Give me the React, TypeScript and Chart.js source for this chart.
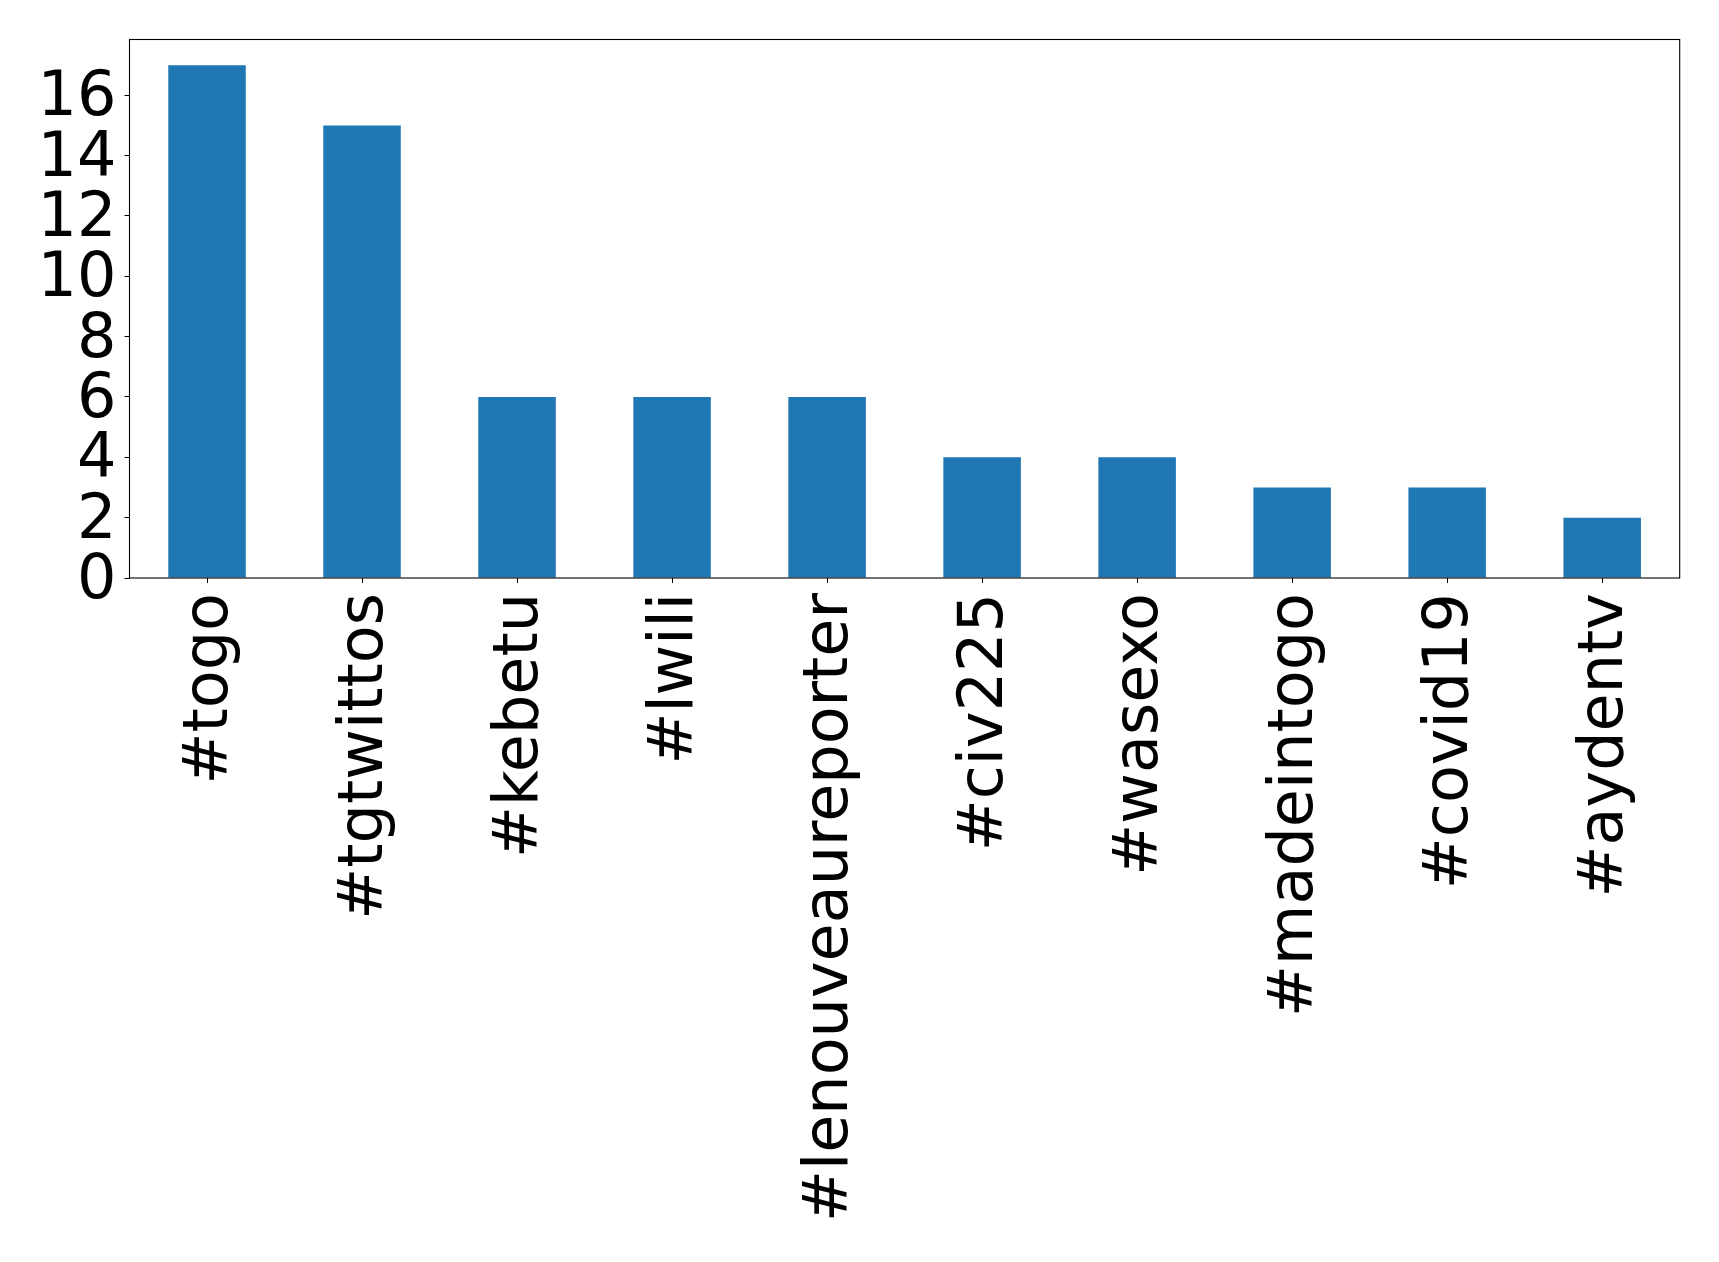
import React, { useEffect, useRef } from "react";
import { Chart, registerables } from "chart.js";

Chart.register(...registerables);

const categories = [
  "#togo",
  "#tgtwittos",
  "#kebetu",
  "#lwili",
  "#lenouveaureporter",
  "#civ225",
  "#wasexo",
  "#madeintogo",
  "#covid19",
  "#aydentv",
];
const counts = [17, 15, 6, 6, 6, 4, 4, 3, 3, 2];
const yTicks = [0, 2, 4, 6, 8, 10, 12, 14, 16];
const yMax = 17.85;

const W = 1719;
const H = 1262;
const FONT = "DejaVu Sans";

const boxPlugin = {
  id: "boxPlugin",
  afterDatasetsDraw(chart: any) {
    const { ctx, chartArea } = chart;
    ctx.save();
    ctx.strokeStyle = "#000";
    ctx.lineWidth = 1.1;
    ctx.strokeRect(
      chartArea.left,
      chartArea.top,
      chartArea.right - chartArea.left,
      chartArea.bottom - chartArea.top
    );
    ctx.restore();
  },
};

export default function App() {
  const ref = useRef<HTMLCanvasElement | null>(null);
  useEffect(() => {
    document.body.style.margin = "0";
    const canvas = ref.current;
    if (!canvas) return;
    const chart = new Chart(canvas, {
      type: "bar",
      data: {
        labels: categories,
        datasets: [
          {
            data: counts,
            backgroundColor: "#1f77b4",
            borderWidth: 0,
            barPercentage: 0.5,
            categoryPercentage: 1,
          },
        ],
      },
      options: {
        responsive: false,
        animation: false,
        devicePixelRatio: 1,
        layout: { padding: { top: 39.5, right: 39.3, left: 0, bottom: 0 } },
        plugins: {
          legend: { display: false },
          tooltip: { enabled: false },
        },
        scales: {
          x: {
            type: "category",
            offset: true,
            border: { display: false },
            grid: {
              display: true,
              offset: false,
              drawOnChartArea: false,
              drawTicks: true,
              tickLength: 5,
              color: "#000",
              lineWidth: 1,
            },
            ticks: {
              autoSkip: false,
              minRotation: 90,
              maxRotation: 90,
              padding: 10,
              labelOffset: 4,
              color: "#000",
              font: { family: FONT, size: 62 },
            },
            afterFit(scale: any) {
              scale.height = H - 578;
              scale.paddingLeft = 0;
              scale.paddingRight = 0;
            },
          },
          y: {
            type: "linear",
            min: 0,
            max: yMax,
            border: { display: false },
            grid: {
              display: true,
              drawOnChartArea: false,
              drawTicks: true,
              tickLength: 5,
              color: "#000",
              lineWidth: 1,
            },
            ticks: {
              autoSkip: false,
              padding: 8,
              labelOffset: 4,
              color: "#000",
              font: { family: FONT, size: 62 },
            },
            afterBuildTicks(scale: any) {
              scale.ticks = yTicks.map((v) => ({ value: v }));
            },
            afterFit(scale: any) {
              scale.width = 129.5;
              scale.paddingTop = 0;
              scale.paddingBottom = 0;
            },
          },
        },
      },
      plugins: [boxPlugin],
    });
    return () => chart.destroy();
  }, []);
  return (
    <div style={{ width: W, height: H, background: "#fff" }}>
      <canvas ref={ref} width={W} height={H} style={{ display: "block" }} />
    </div>
  );
}
